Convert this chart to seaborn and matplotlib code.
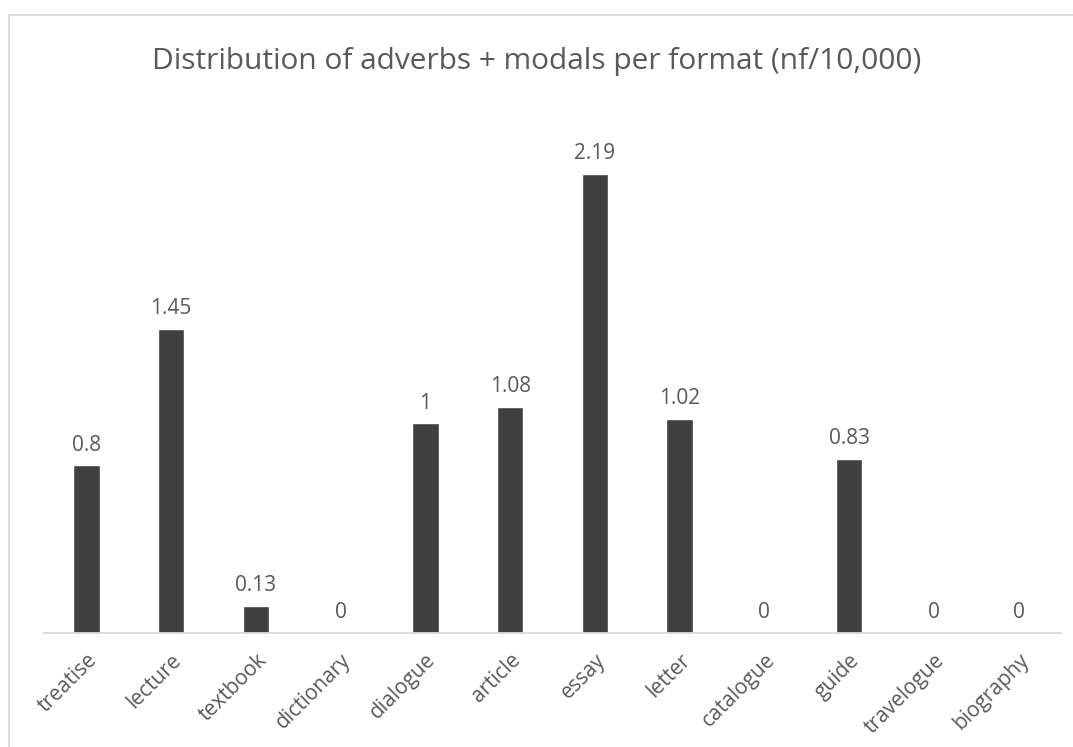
import matplotlib
matplotlib.use('Agg')
import matplotlib.pyplot as plt
import seaborn as sns
import pandas as pd
from matplotlib.patches import Rectangle

formats = ['treatise', 'lecture', 'textbook', 'dictionary', 'dialogue', 'article',
           'essay', 'letter', 'catalogue', 'guide', 'travelogue', 'biography']
values = [0.8, 1.45, 0.13, 0, 1, 1.08, 2.19, 1.02, 0, 0.83, 0, 0]
value_labels = ['0.8', '1.45', '0.13', '0', '1', '1.08', '2.19', '1.02', '0', '0.83', '0', '0']

sns.set_style('white')
plt.rcParams['font.family'] = ['Open Sans', 'DejaVu Sans']

df = pd.DataFrame({'format': formats, 'value': values})

fig = plt.figure(figsize=(10.73, 7.47), dpi=100)
ax = fig.add_axes([44 / 1073, 114 / 747, 1017 / 1073, 524 / 747])

sns.barplot(data=df, x='format', y='value', color='#404040', width=0.31,
            saturation=1, ax=ax)

ax.set_ylim(0, 2.5)
ax.set_xlim(-0.5, len(formats) - 0.5)
ax.set_yticks([])
ax.set_xlabel('')
ax.set_ylabel('')
for side in ['top', 'right', 'left']:
    ax.spines[side].set_visible(False)
ax.spines['bottom'].set_color('#d9d9d9')
ax.spines['bottom'].set_linewidth(1.3)
ax.tick_params(axis='x', length=0, pad=12)
ax.set_xticks(range(len(formats)))
ax.set_xticklabels(formats, rotation=45, ha='right', rotation_mode='anchor',
                   fontsize=15, color='#595959')

for i, (v, lab) in enumerate(zip(values, value_labels)):
    ax.annotate(lab, (i, v), xytext=(0, 7), textcoords='offset points',
                ha='center', va='bottom', fontsize=15, color='#595959')

fig.text(0.5, 1 - 62 / 747, 'Distribution of adverbs + modals per format (nf/10,000)',
         ha='center', va='center', fontsize=21.5, color='#595959')

fig.patches.append(Rectangle((9 / 1073, -0.05), 1.1, 1 - 15 / 747 + 0.05,
                             transform=fig.transFigure, fill=False,
                             edgecolor='#d9d9d9', linewidth=1.3))

fig.savefig('out.png', dpi=100)
